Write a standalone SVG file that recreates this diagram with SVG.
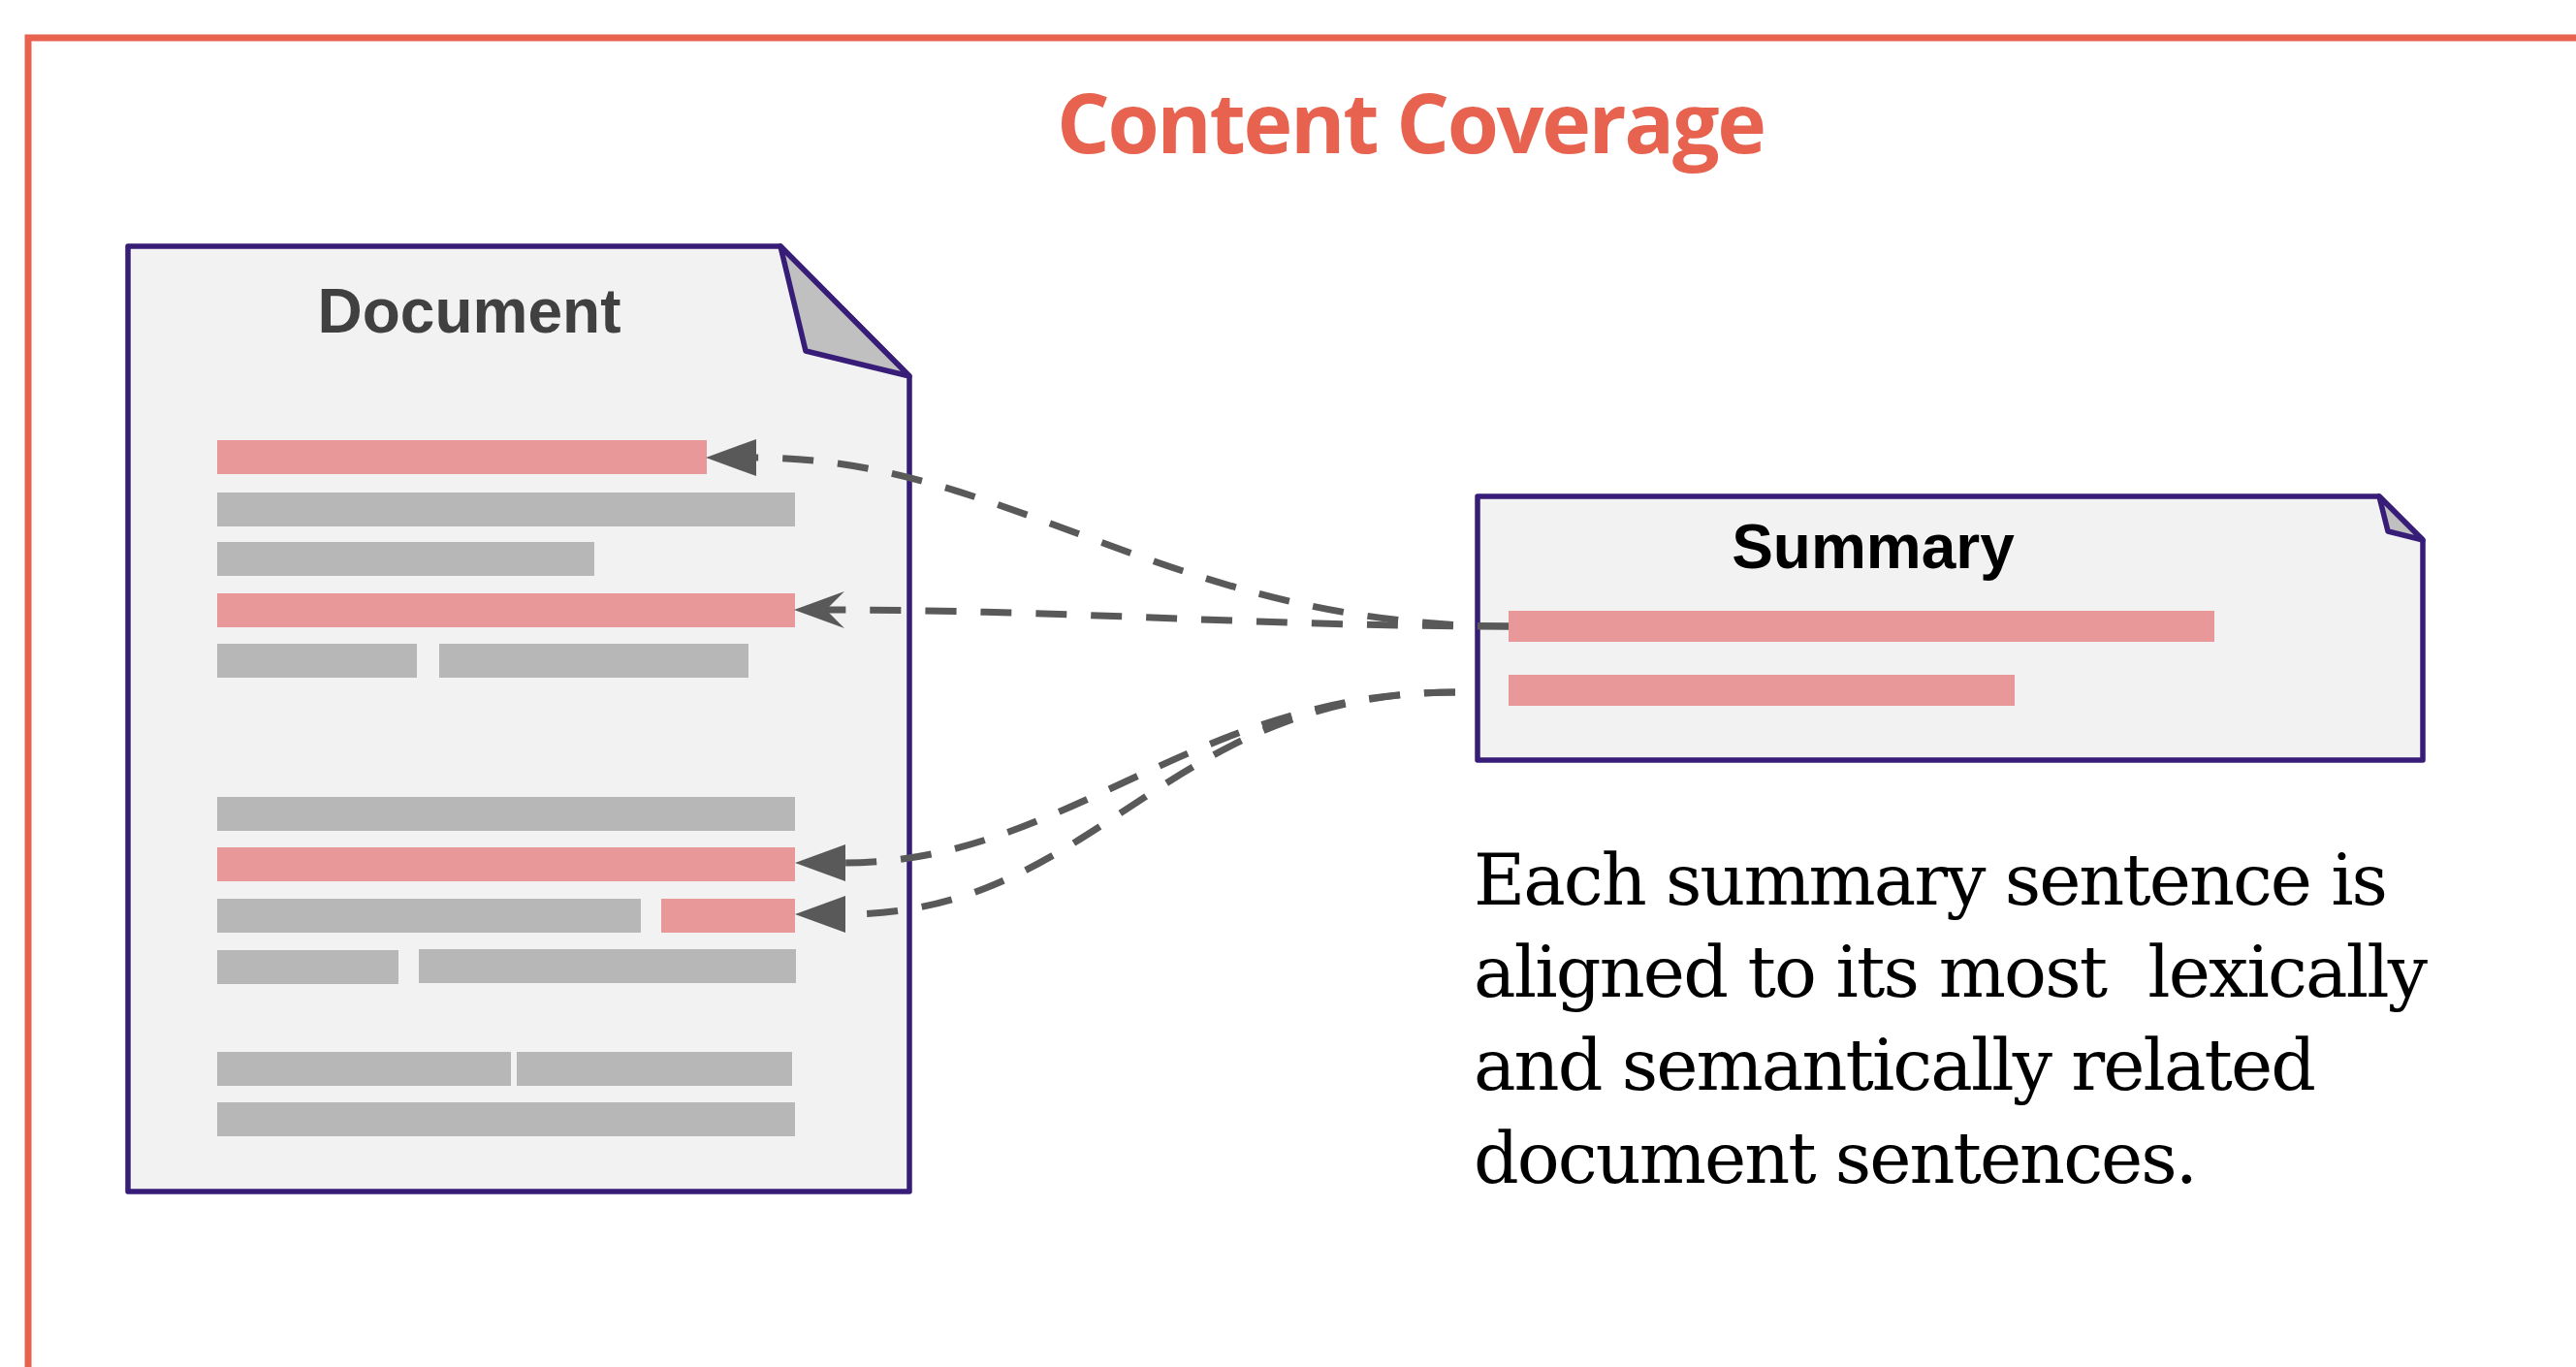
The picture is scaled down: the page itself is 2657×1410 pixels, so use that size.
<svg xmlns="http://www.w3.org/2000/svg" width="2657" height="1410" viewBox="0 0 2657 1410">
<style>
.frame{fill:none;stroke:#E8634F;stroke-width:7}
.title{font-family:"Open Sans","Liberation Sans",sans-serif;font-weight:bold;font-size:86px;fill:#E8634F}
.page{fill:#F2F2F2;stroke:#371D78;stroke-width:5.5;stroke-linejoin:round}
.fold{fill:#C0C0C0;stroke:#371D78;stroke-width:5.5;stroke-linejoin:round}
.label{font-family:"Liberation Sans",Arial,sans-serif;font-weight:bold;font-size:64px}
.pink{fill:#E99899}
.gray{fill:#B7B7B7}
.conn{fill:none;stroke:#595959;stroke-width:7;stroke-dasharray:32 25}
.desc{font-family:"DejaVu Serif","Liberation Serif",serif;font-size:73px;fill:#000}
</style>
<defs>
<marker id="block" markerUnits="userSpaceOnUse" viewBox="0 0 52 38" refX="0" refY="19" markerWidth="52" markerHeight="38" orient="auto">
<path d="M52,19 L0,0 L0,38 Z" fill="#595959"/>
</marker>
<marker id="classic" markerUnits="userSpaceOnUse" viewBox="0 0 52 38" refX="19" refY="19" markerWidth="52" markerHeight="38" orient="auto">
<path d="M52,19 L0,0 L19,19 L0,38 Z" fill="#595959"/>
</marker>
</defs>
<rect class="frame" x="29" y="39" width="2700" height="1500"/>
<text class="title" x="1456" y="158" text-anchor="middle" textLength="732" lengthAdjust="spacing">Content Coverage</text>
<g id="document">
<path class="page" d="M132,254 L805,254 L938,388 L938,1229 L132,1229 Z"/>
<path class="fold" d="M805,254 L831,362 L938,388 Z"/>
<text class="label" x="484" y="343" text-anchor="middle" fill="#404040">Document</text>
<rect class="pink" x="224" y="454" width="505" height="35"/>
<rect class="gray" x="224" y="508" width="596" height="35"/>
<rect class="gray" x="224" y="559" width="389" height="35"/>
<rect class="pink" x="224" y="612" width="596" height="35"/>
<rect class="gray" x="224" y="664" width="206" height="35"/>
<rect class="gray" x="453" y="664" width="319" height="35"/>
<rect class="gray" x="224" y="822" width="596" height="35"/>
<rect class="pink" x="224" y="874" width="596" height="35"/>
<rect class="gray" x="224" y="927" width="437" height="35"/>
<rect class="pink" x="682" y="927" width="138" height="35"/>
<rect class="gray" x="224" y="980" width="187" height="35"/>
<rect class="gray" x="432" y="979" width="389" height="35"/>
<rect class="gray" x="224" y="1085" width="303" height="35"/>
<rect class="gray" x="533" y="1085" width="284" height="35"/>
<rect class="gray" x="224" y="1137" width="596" height="35"/>
</g>
<g id="summary">
<path class="page" d="M1524,512 L2454,512 L2499,557 L2499,784 L1524,784 Z"/>
<path class="fold" d="M2454,512 L2463,548 L2499,557 Z"/>
<text class="label" x="1932" y="586" text-anchor="middle" fill="#000">Summary</text>
<rect class="pink" x="1556" y="630" width="728" height="32"/>
<rect class="pink" x="1556" y="696" width="522" height="32"/>
</g>
<g id="connectors">
<path class="conn" d="M1556,646 C1208,646 1040,472 780,472" marker-end="url(#block)"/>
<path class="conn" d="M1556,646 C1300,646 1100,629 852,629" marker-end="url(#classic)"/>
<path class="conn" d="M1501,714 C1230,714 1099,890 872,890" marker-end="url(#block)"/>
<path class="conn" d="M1501,714 C1200,714 1132,943 872,943" marker-end="url(#block)"/>
</g>
<g id="description">
<text class="desc" x="1520" y="933" textLength="943" lengthAdjust="spacing">Each summary sentence is</text>
<text class="desc" x="1520" y="1028" textLength="984" lengthAdjust="spacing" xml:space="preserve">aligned to its most  lexically</text>
<text class="desc" x="1520" y="1124" textLength="869" lengthAdjust="spacing">and semantically related</text>
<text class="desc" x="1520" y="1220" textLength="747" lengthAdjust="spacing">document sentences.</text>
</g>
</svg>
